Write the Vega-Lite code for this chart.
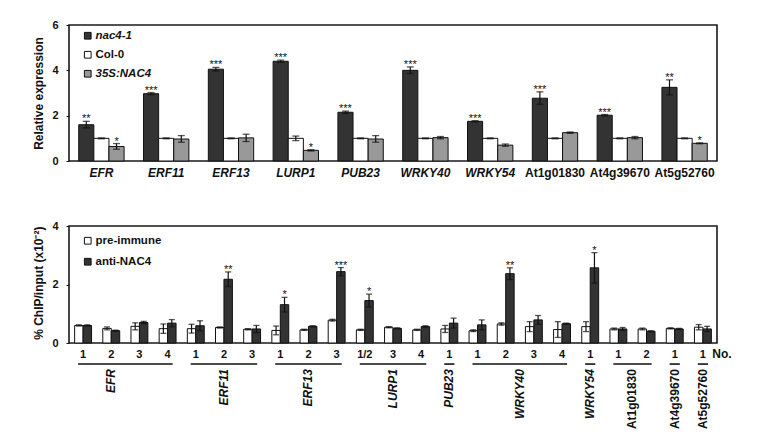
{
  "$schema": "https://vega.github.io/schema/vega-lite/v6.json",
  "autosize": {"type": "pad"},
  "padding": {"left": 32, "top": 18, "right": 0, "bottom": 0},
  "background": "white",
  "spacing": 40,
  "resolve": {
    "scale": {"x": "independent", "xOffset": "independent", "y": "independent", "fill": "independent"},
    "legend": {"fill": "independent"}
  },
  "config": {
    "font": "Liberation Sans",
    "view": {"stroke": "#1a1a1a", "strokeWidth": 1.6},
    "axis": {"grid": false, "domain": false, "labelColor": "#111", "titleColor": "#111", "tickColor": "#111"},
    "legend": {"labelColor": "#111"}
  },
  "datasets": {
    "expr": [
      {"gene": "EFR", "g": "nac4-1", "v": 1.6, "lo": 1.46, "hi": 1.75, "sig": "**"},
      {"gene": "EFR", "g": "Col-0", "v": 1.0, "lo": 0.98, "hi": 1.02, "sig": ""},
      {"gene": "EFR", "g": "35S:NAC4", "v": 0.64, "lo": 0.52, "hi": 0.77, "sig": "*"},
      {"gene": "ERF11", "g": "nac4-1", "v": 2.97, "lo": 2.92, "hi": 3.02, "sig": "***"},
      {"gene": "ERF11", "g": "Col-0", "v": 1.0, "lo": 0.98, "hi": 1.02, "sig": ""},
      {"gene": "ERF11", "g": "35S:NAC4", "v": 0.97, "lo": 0.83, "hi": 1.12, "sig": ""},
      {"gene": "ERF13", "g": "nac4-1", "v": 4.05, "lo": 3.97, "hi": 4.13, "sig": "***"},
      {"gene": "ERF13", "g": "Col-0", "v": 1.0, "lo": 0.98, "hi": 1.02, "sig": ""},
      {"gene": "ERF13", "g": "35S:NAC4", "v": 1.02, "lo": 0.86, "hi": 1.18, "sig": ""},
      {"gene": "LURP1", "g": "nac4-1", "v": 4.4, "lo": 4.35, "hi": 4.45, "sig": "***"},
      {"gene": "LURP1", "g": "Col-0", "v": 1.0, "lo": 0.9, "hi": 1.1, "sig": ""},
      {"gene": "LURP1", "g": "35S:NAC4", "v": 0.47, "lo": 0.44, "hi": 0.5, "sig": "*"},
      {"gene": "PUB23", "g": "nac4-1", "v": 2.15, "lo": 2.1, "hi": 2.2, "sig": "***"},
      {"gene": "PUB23", "g": "Col-0", "v": 1.0, "lo": 0.98, "hi": 1.02, "sig": ""},
      {"gene": "PUB23", "g": "35S:NAC4", "v": 0.97, "lo": 0.83, "hi": 1.12, "sig": ""},
      {"gene": "WRKY40", "g": "nac4-1", "v": 4.0, "lo": 3.86, "hi": 4.15, "sig": "***"},
      {"gene": "WRKY40", "g": "Col-0", "v": 1.0, "lo": 0.98, "hi": 1.02, "sig": ""},
      {"gene": "WRKY40", "g": "35S:NAC4", "v": 1.03, "lo": 0.98, "hi": 1.08, "sig": ""},
      {"gene": "WRKY54", "g": "nac4-1", "v": 1.75, "lo": 1.72, "hi": 1.78, "sig": "***"},
      {"gene": "WRKY54", "g": "Col-0", "v": 1.0, "lo": 0.98, "hi": 1.02, "sig": ""},
      {"gene": "WRKY54", "g": "35S:NAC4", "v": 0.7, "lo": 0.65, "hi": 0.75, "sig": ""},
      {"gene": "At1g01830", "g": "nac4-1", "v": 2.77, "lo": 2.5, "hi": 3.05, "sig": "***"},
      {"gene": "At1g01830", "g": "Col-0", "v": 1.0, "lo": 0.98, "hi": 1.02, "sig": ""},
      {"gene": "At1g01830", "g": "35S:NAC4", "v": 1.25, "lo": 1.22, "hi": 1.28, "sig": ""},
      {"gene": "At4g39670", "g": "nac4-1", "v": 2.02, "lo": 1.99, "hi": 2.05, "sig": "***"},
      {"gene": "At4g39670", "g": "Col-0", "v": 1.0, "lo": 0.98, "hi": 1.02, "sig": ""},
      {"gene": "At4g39670", "g": "35S:NAC4", "v": 1.03, "lo": 0.98, "hi": 1.08, "sig": ""},
      {"gene": "At5g52760", "g": "nac4-1", "v": 3.25, "lo": 2.92, "hi": 3.58, "sig": "**"},
      {"gene": "At5g52760", "g": "Col-0", "v": 1.0, "lo": 0.98, "hi": 1.02, "sig": ""},
      {"gene": "At5g52760", "g": "35S:NAC4", "v": 0.78, "lo": 0.76, "hi": 0.8, "sig": "*"}
    ],
    "chip": [
      {"pos": "EFR|1", "a": "pre-immune", "v": 0.6, "lo": 0.58, "hi": 0.62, "sig": ""},
      {"pos": "EFR|1", "a": "anti-NAC4", "v": 0.6, "lo": 0.58, "hi": 0.62, "sig": ""},
      {"pos": "EFR|2", "a": "pre-immune", "v": 0.5, "lo": 0.45, "hi": 0.55, "sig": ""},
      {"pos": "EFR|2", "a": "anti-NAC4", "v": 0.42, "lo": 0.4, "hi": 0.44, "sig": ""},
      {"pos": "EFR|3", "a": "pre-immune", "v": 0.57, "lo": 0.45, "hi": 0.69, "sig": ""},
      {"pos": "EFR|3", "a": "anti-NAC4", "v": 0.7, "lo": 0.66, "hi": 0.74, "sig": ""},
      {"pos": "EFR|4", "a": "pre-immune", "v": 0.49, "lo": 0.33, "hi": 0.65, "sig": ""},
      {"pos": "EFR|4", "a": "anti-NAC4", "v": 0.68, "lo": 0.56, "hi": 0.8, "sig": ""},
      {"pos": "ERF11|1", "a": "pre-immune", "v": 0.49, "lo": 0.34, "hi": 0.64, "sig": ""},
      {"pos": "ERF11|1", "a": "anti-NAC4", "v": 0.59, "lo": 0.42, "hi": 0.76, "sig": ""},
      {"pos": "ERF11|2", "a": "pre-immune", "v": 0.53, "lo": 0.51, "hi": 0.55, "sig": ""},
      {"pos": "ERF11|2", "a": "anti-NAC4", "v": 2.18, "lo": 1.93, "hi": 2.43, "sig": "**"},
      {"pos": "ERF11|3", "a": "pre-immune", "v": 0.47, "lo": 0.45, "hi": 0.49, "sig": ""},
      {"pos": "ERF11|3", "a": "anti-NAC4", "v": 0.48, "lo": 0.36, "hi": 0.6, "sig": ""},
      {"pos": "ERF13|1", "a": "pre-immune", "v": 0.43, "lo": 0.28, "hi": 0.58, "sig": ""},
      {"pos": "ERF13|1", "a": "anti-NAC4", "v": 1.31, "lo": 1.06, "hi": 1.56, "sig": "*"},
      {"pos": "ERF13|2", "a": "pre-immune", "v": 0.45, "lo": 0.43, "hi": 0.47, "sig": ""},
      {"pos": "ERF13|2", "a": "anti-NAC4", "v": 0.57, "lo": 0.55, "hi": 0.59, "sig": ""},
      {"pos": "ERF13|3", "a": "pre-immune", "v": 0.78, "lo": 0.75, "hi": 0.81, "sig": ""},
      {"pos": "ERF13|3", "a": "anti-NAC4", "v": 2.44, "lo": 2.3, "hi": 2.58, "sig": "***"},
      {"pos": "LURP1|1/2", "a": "pre-immune", "v": 0.45, "lo": 0.43, "hi": 0.47, "sig": ""},
      {"pos": "LURP1|1/2", "a": "anti-NAC4", "v": 1.45, "lo": 1.23, "hi": 1.67, "sig": "*"},
      {"pos": "LURP1|3", "a": "pre-immune", "v": 0.54, "lo": 0.52, "hi": 0.56, "sig": ""},
      {"pos": "LURP1|3", "a": "anti-NAC4", "v": 0.5, "lo": 0.48, "hi": 0.52, "sig": ""},
      {"pos": "LURP1|4", "a": "pre-immune", "v": 0.45, "lo": 0.43, "hi": 0.47, "sig": ""},
      {"pos": "LURP1|4", "a": "anti-NAC4", "v": 0.56, "lo": 0.53, "hi": 0.59, "sig": ""},
      {"pos": "PUB23|1", "a": "pre-immune", "v": 0.48, "lo": 0.36, "hi": 0.6, "sig": ""},
      {"pos": "PUB23|1", "a": "anti-NAC4", "v": 0.68, "lo": 0.51, "hi": 0.85, "sig": ""},
      {"pos": "WRKY40|1", "a": "pre-immune", "v": 0.42, "lo": 0.39, "hi": 0.45, "sig": ""},
      {"pos": "WRKY40|1", "a": "anti-NAC4", "v": 0.62, "lo": 0.45, "hi": 0.79, "sig": ""},
      {"pos": "WRKY40|2", "a": "pre-immune", "v": 0.65, "lo": 0.61, "hi": 0.69, "sig": ""},
      {"pos": "WRKY40|2", "a": "anti-NAC4", "v": 2.37, "lo": 2.17, "hi": 2.57, "sig": "**"},
      {"pos": "WRKY40|3", "a": "pre-immune", "v": 0.56, "lo": 0.39, "hi": 0.73, "sig": ""},
      {"pos": "WRKY40|3", "a": "anti-NAC4", "v": 0.79, "lo": 0.64, "hi": 0.94, "sig": ""},
      {"pos": "WRKY40|4", "a": "pre-immune", "v": 0.46, "lo": 0.19, "hi": 0.73, "sig": ""},
      {"pos": "WRKY40|4", "a": "anti-NAC4", "v": 0.66, "lo": 0.64, "hi": 0.68, "sig": ""},
      {"pos": "WRKY54|1", "a": "pre-immune", "v": 0.56, "lo": 0.39, "hi": 0.73, "sig": ""},
      {"pos": "WRKY54|1", "a": "anti-NAC4", "v": 2.57, "lo": 2.05, "hi": 3.09, "sig": "*"},
      {"pos": "At1g01830|1", "a": "pre-immune", "v": 0.48, "lo": 0.45, "hi": 0.51, "sig": ""},
      {"pos": "At1g01830|1", "a": "anti-NAC4", "v": 0.48, "lo": 0.43, "hi": 0.53, "sig": ""},
      {"pos": "At1g01830|2", "a": "pre-immune", "v": 0.48, "lo": 0.45, "hi": 0.51, "sig": ""},
      {"pos": "At1g01830|2", "a": "anti-NAC4", "v": 0.4, "lo": 0.38, "hi": 0.42, "sig": ""},
      {"pos": "At4g39670|1", "a": "pre-immune", "v": 0.5, "lo": 0.48, "hi": 0.52, "sig": ""},
      {"pos": "At4g39670|1", "a": "anti-NAC4", "v": 0.48, "lo": 0.46, "hi": 0.5, "sig": ""},
      {"pos": "At5g52760|1", "a": "pre-immune", "v": 0.54, "lo": 0.45, "hi": 0.63, "sig": ""},
      {"pos": "At5g52760|1", "a": "anti-NAC4", "v": 0.48, "lo": 0.39, "hi": 0.57, "sig": ""}
    ],
    "groups": [
      {"gene": "EFR", "pos": "EFR|1", "pos2": "EFR|4", "mid": "EFR|2", "even": false},
      {"gene": "ERF11", "pos": "ERF11|1", "pos2": "ERF11|3", "mid": "ERF11|2", "even": false},
      {"gene": "ERF13", "pos": "ERF13|1", "pos2": "ERF13|3", "mid": "ERF13|2", "even": false},
      {"gene": "LURP1", "pos": "LURP1|1/2", "pos2": "LURP1|4", "mid": "LURP1|3", "even": false},
      {"gene": "PUB23", "pos": "PUB23|1", "pos2": "PUB23|1", "mid": "PUB23|1", "even": false},
      {"gene": "WRKY40", "pos": "WRKY40|1", "pos2": "WRKY40|4", "mid": "WRKY40|2", "even": true},
      {"gene": "WRKY54", "pos": "WRKY54|1", "pos2": "WRKY54|1", "mid": "WRKY54|1", "even": false},
      {"gene": "At1g01830", "pos": "At1g01830|1", "pos2": "At1g01830|2", "mid": "At1g01830|1", "even": true},
      {"gene": "At4g39670", "pos": "At4g39670|1", "pos2": "At4g39670|1", "mid": "At4g39670|1", "even": false},
      {"gene": "At5g52760", "pos": "At5g52760|1", "pos2": "At5g52760|1", "mid": "At5g52760|1", "even": false}
    ]
  },
  "vconcat": [
    {
      "width": 648,
      "height": 136,
      "data": {"name": "expr"},
      "encoding": {
        "x": {
          "field": "gene", "type": "nominal", "sort": null,
          "scale": {"paddingInner": 0.3, "paddingOuter": 0.15},
          "axis": {
            "title": null, "ticks": false, "labelAngle": 0, "labelPadding": 6,
            "labelFontSize": 12, "labelFontWeight": "bold",
            "labelFontStyle": {"condition": {"test": "indexof(datum.value, 'At') === 0", "value": "normal"}, "value": "italic"}
          }
        },
        "xOffset": {"field": "g", "type": "nominal", "sort": null, "scale": {"domain": ["nac4-1", "Col-0", "35S:NAC4"], "paddingInner": 0, "paddingOuter": 0}}
      },
      "layer": [
        {
          "mark": {"type": "bar", "stroke": "#111", "strokeWidth": 1},
          "encoding": {
            "y": {
              "field": "v", "type": "quantitative",
              "scale": {"domain": [0, 6], "nice": false},
              "axis": {"title": "Relative expression", "values": [0, 2, 4, 6], "tickSize": 3, "labelPadding": 8, "labelFontSize": 11, "labelFontWeight": "bold", "titleFontSize": 12, "titleFontWeight": "bold", "titlePadding": 6}
            },
            "fill": {
              "field": "g", "type": "nominal",
              "scale": {"domain": ["nac4-1", "Col-0", "35S:NAC4"], "range": ["#333333", "#ffffff", "#999999"]},
              "legend": {
                "title": null, "orient": "none", "legendX": 13, "legendY": 5,
                "symbolType": "square", "symbolSize": 45, "symbolStrokeColor": "#111", "symbolStrokeWidth": 1,
                "labelFontSize": 11.5, "labelFontWeight": "bold", "labelOffset": 2, "rowPadding": 6,
                "labelFontStyle": {"expr": "datum.label === 'Col-0' ? 'normal' : 'italic'"}
              }
            }
          }
        },
        {
          "mark": {"type": "rule", "color": "#111", "strokeWidth": 1.2},
          "encoding": {"y": {"field": "lo", "type": "quantitative"}, "y2": {"field": "hi"}}
        },
        {
          "mark": {"type": "tick", "color": "#111", "size": 7, "thickness": 1.3},
          "encoding": {"y": {"field": "hi", "type": "quantitative"}}
        },
        {
          "mark": {"type": "tick", "color": "#111", "size": 7, "thickness": 1.3},
          "encoding": {"y": {"field": "lo", "type": "quantitative"}}
        },
        {
          "mark": {"type": "text", "fontSize": 11, "baseline": "alphabetic", "dy": 1, "color": "#111"},
          "encoding": {"y": {"field": "hi", "type": "quantitative"}, "text": {"field": "sig"}}
        }
      ]
    },
    {
      "width": 648,
      "height": 117,
      "encoding": {
        "x": {
          "field": "pos", "type": "nominal",
          "scale": {
            "domain": ["EFR|1", "EFR|2", "EFR|3", "EFR|4", "ERF11|1", "ERF11|2", "ERF11|3", "ERF13|1", "ERF13|2", "ERF13|3", "LURP1|1/2", "LURP1|3", "LURP1|4", "PUB23|1", "WRKY40|1", "WRKY40|2", "WRKY40|3", "WRKY40|4", "WRKY54|1", "At1g01830|1", "At1g01830|2", "At4g39670|1", "At5g52760|1"],
            "paddingInner": 0.4, "paddingOuter": 0.2
          },
          "axis": {
            "title": null, "ticks": false, "labelAngle": 0, "labelPadding": 5,
            "labelFontSize": 11, "labelFontWeight": "bold",
            "labelExpr": "split(datum.label, '|')[1]"
          }
        }
      },
      "layer": [
        {
          "data": {"name": "chip"},
          "mark": {"type": "bar", "stroke": "#111", "strokeWidth": 1},
          "encoding": {
            "xOffset": {"field": "a", "type": "nominal", "scale": {"domain": ["pre-immune", "anti-NAC4"], "paddingInner": 0, "paddingOuter": 0}},
            "y": {
              "field": "v", "type": "quantitative",
              "scale": {"domain": [0, 4], "nice": false},
              "axis": {"title": "% ChIP/input (x10⁻²)", "titleAnchor": "end", "values": [0, 1, 2, 3, 4], "tickSize": 3, "labelPadding": 8, "labelFontSize": 11, "labelFontWeight": "bold", "titleFontSize": 12, "titleFontWeight": "bold", "titlePadding": 6}
            },
            "fill": {
              "field": "a", "type": "nominal",
              "scale": {"domain": ["pre-immune", "anti-NAC4"], "range": ["#ffffff", "#333333"]},
              "legend": {
                "title": null, "orient": "none", "legendX": 13, "legendY": 9,
                "symbolType": "square", "symbolSize": 45, "symbolStrokeColor": "#111", "symbolStrokeWidth": 1,
                "labelFontSize": 11.5, "labelFontWeight": "bold", "labelOffset": 2, "rowPadding": 8
              }
            }
          }
        },
        {
          "data": {"name": "chip"},
          "mark": {"type": "rule", "color": "#111", "strokeWidth": 1.2},
          "encoding": {
            "xOffset": {"field": "a", "type": "nominal"},
            "y": {"field": "lo", "type": "quantitative"}, "y2": {"field": "hi"}
          }
        },
        {
          "data": {"name": "chip"},
          "mark": {"type": "tick", "color": "#111", "size": 6, "thickness": 1.3},
          "encoding": {"xOffset": {"field": "a", "type": "nominal"}, "y": {"field": "hi", "type": "quantitative"}}
        },
        {
          "data": {"name": "chip"},
          "mark": {"type": "tick", "color": "#111", "size": 6, "thickness": 1.3},
          "encoding": {"xOffset": {"field": "a", "type": "nominal"}, "y": {"field": "lo", "type": "quantitative"}}
        },
        {
          "data": {"name": "chip"},
          "mark": {"type": "text", "fontSize": 11, "baseline": "alphabetic", "dy": 1, "color": "#111"},
          "encoding": {"xOffset": {"field": "a", "type": "nominal"}, "y": {"field": "hi", "type": "quantitative"}, "text": {"field": "sig"}}
        },
        {
          "data": {"name": "groups"},
          "mark": {"type": "rule", "color": "#111", "strokeWidth": 1.6},
          "encoding": {
            "x": {"field": "pos", "type": "nominal", "bandPosition": 0.2},
            "x2": {"field": "pos2", "bandPosition": 0.8},
            "y": {"datum": -0.72}
          }
        },
        {
          "data": {"name": "groups"},
          "transform": [{"filter": "!datum.even"}],
          "mark": {"type": "text", "angle": 270, "align": "right", "baseline": "middle", "fontSize": 12, "fontWeight": "bold", "color": "#111",
                   "fontStyle": {"expr": "indexof(datum.gene, 'At') === 0 ? 'normal' : 'italic'"}},
          "encoding": {
            "x": {"field": "mid", "type": "nominal", "bandPosition": 0.5},
            "y": {"datum": -0.89},
            "text": {"field": "gene"}
          }
        },
        {
          "data": {"name": "groups"},
          "transform": [{"filter": "datum.even"}],
          "mark": {"type": "text", "angle": 270, "align": "right", "baseline": "middle", "fontSize": 12, "fontWeight": "bold", "color": "#111",
                   "fontStyle": {"expr": "indexof(datum.gene, 'At') === 0 ? 'normal' : 'italic'"}},
          "encoding": {
            "x": {"field": "mid", "type": "nominal", "bandPosition": 1.333},
            "y": {"datum": -0.89},
            "text": {"field": "gene"}
          }
        },
        {
          "data": {"name": "groups"},
          "transform": [{"filter": "datum.gene === 'At5g52760'"}],
          "mark": {"type": "text", "align": "left", "baseline": "middle", "fontSize": 12, "fontWeight": "bold", "color": "#111", "dx": 1},
          "encoding": {
            "x": {"field": "pos", "type": "nominal", "bandPosition": 1},
            "y": {"datum": -0.376},
            "text": {"value": "No."}
          }
        }
      ]
    }
  ]
}
